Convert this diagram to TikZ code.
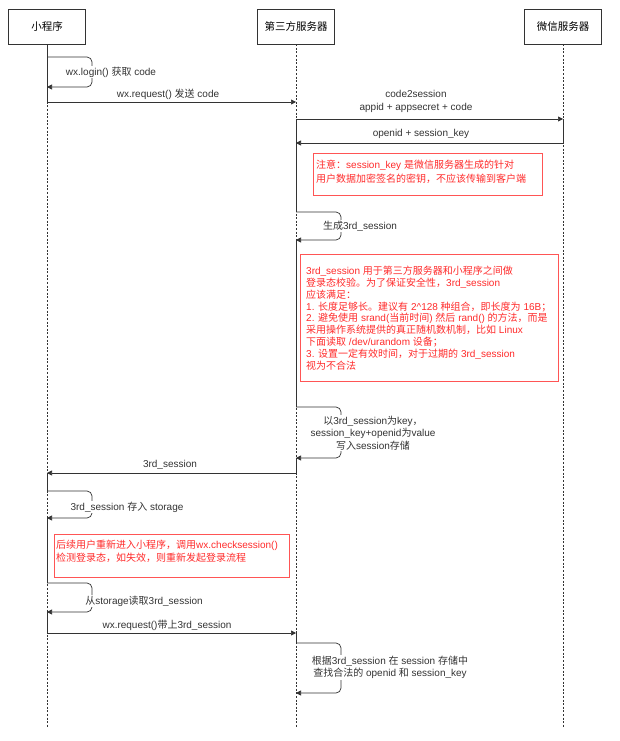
\documentclass[tikz,border=0pt]{standalone}
\usepackage{fontspec}
\setmainfont{Liberation Sans}
\newfontfamily\cjk{Noto Sans CJK SC}
\newcommand{\zh}[1]{{\cjk #1}}
\usetikzlibrary{arrows.meta}
\definecolor{linegray}{HTML}{333333}
\definecolor{notered}{HTML}{FF2A2A}
\definecolor{noteframe}{HTML}{FF5555}

\begin{document}
\begin{tikzpicture}[
    x=1pt, y=-1pt,
    font=\fontsize{10}{12.5}\selectfont,
    actor/.style={rectangle, draw=linegray, line width=0.6pt, minimum width=77pt, minimum height=35pt, font=\fontsize{10.5}{12}\selectfont},
    life/.style={draw=linegray, line width=0.6pt, dash pattern=on 2pt off 1.6pt},
    act/.style={draw=linegray, line width=0.7pt},
    arr/.style={act, -{Triangle[length=5pt, width=5pt]}},
    selfloop/.style={arr, rounded corners=5pt},
    lbl/.style={text=linegray, align=center, inner sep=1pt, fill=white},
    notebox/.style={rectangle, draw=noteframe, line width=0.6pt, anchor=north west, inner sep=0pt},
    notetext/.style={text=notered, align=left, anchor=north west, inner sep=0pt},
]
\useasboundingbox (0,0) rectangle (620,741);

\node[actor] (app) at (47,26.5) {\zh{小程序}};
\node[actor] (svr) at (296,26.5) {\zh{第三方服务器}};
\node[actor] (wx) at (563,26.5) {\zh{微信服务器}};

\coordinate (append) at (47,727);
\coordinate (svrend) at (296,727);
\coordinate (wxend) at (563,727);
\draw[life] (app.south) -- (append);
\draw[life] (svr.south) -- (svrend);
\draw[life] (wx.south) -- (wxend);

\coordinate (a1) at (47,57);
\coordinate (a2) at (47,87);
\coordinate (a4) at (47,473);
\coordinate (a5) at (47,491);
\coordinate (a6) at (47,518);
\coordinate (a7) at (47,583);
\coordinate (a8) at (47,612);
\coordinate (s1) at (296,102);
\coordinate (s2) at (296,119);
\coordinate (s3) at (296,143);
\coordinate (s4) at (296,212);
\coordinate (s5) at (296,240);
\coordinate (s6) at (296,407);
\coordinate (s7) at (296,458);
\coordinate (s9) at (296,633);
\coordinate (s10) at (296,643);
\coordinate (s11) at (296,693);
\coordinate (w1) at (563,119);

\draw[selfloop] (a1) -- ++(45,0) |- (a2);
\draw[arr] (app.south) |- (s1);
\draw[arr] (s2) -- (w1);
\draw[arr] (w1) |- (s3);
\draw[act] (s2) -- (s4);
\draw[selfloop] (s4) -- ++(45,0) |- (s5);
\draw[act] (s5) -- (s6);
\draw[selfloop] (s6) -- ++(45,0) |- (s7);
\draw[arr] (s7) |- (a4);
\draw[act] (a4) -- (a5);
\draw[selfloop] (a5) -- ++(45,0) |- (a6);
\draw[act] (a6) -- (a7);
\draw[selfloop] (a7) -- ++(45,0) |- (a8);
\draw[arr] (a8) |- (s9);
\draw[act] (s9) -- (s10);
\draw[selfloop] (s10) -- ++(45,0) |- (s11);

\node[lbl] (loginlbl) at (111,72) {wx.login() \zh{获取} code};
\node[lbl] (reqlbl) at (168,94) {wx.request() \zh{发送} code};
\node[lbl] (c2slbl) at (416,101.5) {code2session\\appid + appsecret + code};
\node[lbl] (keylbl) at (421,134) {openid + session\_key};
\node[lbl] (genlbl) at (360,226) {\zh{生成}3rd\_session};
\node[lbl] (storelbl) at (373,433) {\zh{以}3rd\_session\zh{为}key\zh{，}\\session\_key+openid\zh{为}value\\\zh{写入}session\zh{存储}};
\node[lbl] (retlbl) at (170,465) {3rd\_session};
\node[lbl] (savelbl) at (127,507) {3rd\_session \zh{存入} storage};
\node[lbl] (readlbl) at (144,601) {\zh{从}storage\zh{读取}3rd\_session};
\node[lbl] (req2lbl) at (167,625) {wx.request()\zh{带上}3rd\_session};
\node[lbl] (findlbl) at (390,667.5) {\zh{根据}3rd\_session \zh{在} session \zh{存储中}\\\zh{查找合法的} openid \zh{和} session\_key};

\node[notebox, minimum width=229pt, minimum height=42pt] (warn) at (313,153) {};
\node[notetext, font=\fontsize{10}{14}\selectfont] (warntxt) at ([shift={(3pt,-7pt)}]warn.north west)
  {\zh{注意：}session\_key \zh{是微信服务器生成的针对}\\\zh{用户数据加密签名的密钥，不应该传输到客户端}};

\node[notebox, minimum width=258pt, minimum height=127pt] (rule) at (300,254) {};
\node[notetext, font=\fontsize{10}{11.8}\selectfont] (ruletxt) at ([shift={(6pt,-12pt)}]rule.north west)
  {3rd\_session \zh{用于第三方服务器和小程序之间做}\\
   \zh{登录态校验。为了保证安全性，}3rd\_session\\
   \zh{应该满足：}\\
   1. \zh{长度足够长。建议有} 2\textasciicircum128 \zh{种组合，即长度为} 16B\zh{；}\\
   2. \zh{避免使用} srand(\zh{当前时间}) \zh{然后} rand() \zh{的方法，而是}\\
   \zh{采用操作系统提供的真正随机数机制，比如} Linux\\
   \zh{下面读取} /dev/urandom \zh{设备；}\\
   3. \zh{设置一定有效时间，对于过期的} 3rd\_session\\
   \zh{视为不合法}};

\node[notebox, minimum width=235pt, minimum height=43pt] (check) at (54,534) {};
\node[notetext, font=\fontsize{10}{13}\selectfont] (checktxt) at ([shift={(2pt,-6pt)}]check.north west)
  {\zh{后续用户重新进入小程序，调用}wx.checksession()\\\zh{检测登录态，如失效，则重新发起登录流程}};
\end{tikzpicture}
\end{document}
